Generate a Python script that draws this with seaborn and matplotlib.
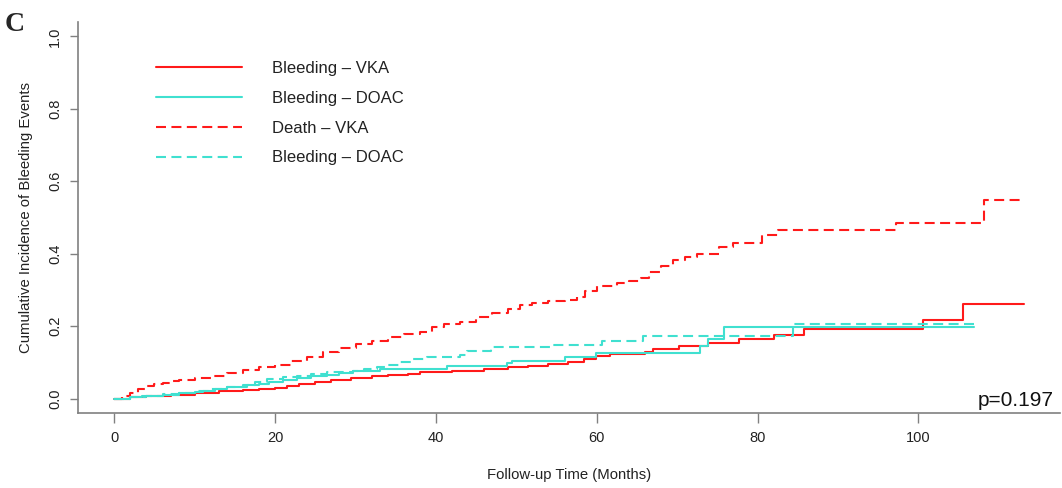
import matplotlib
matplotlib.use("Agg")
import matplotlib.pyplot as plt
import seaborn as sns
import pandas as pd

# ---- data ----
bleed_vka_t = [0, 2, 4, 7, 10, 13, 16, 18, 20, 21.5, 23, 25, 27, 29.5, 32, 34, 36.5, 38, 42, 46, 49,
               51.5, 54, 56.4, 58.4, 59.9, 61.7, 66, 67, 70.2, 73.9, 77.7, 82, 85.8, 100.6, 105.6, 113.1]
bleed_vka_v = [0, 0.004, 0.008, 0.011, 0.016, 0.020, 0.023, 0.027, 0.030, 0.035, 0.041, 0.046, 0.051,
               0.057, 0.061, 0.064, 0.068, 0.074, 0.077, 0.082, 0.087, 0.091, 0.096, 0.101, 0.109,
               0.117, 0.123, 0.129, 0.137, 0.145, 0.153, 0.164, 0.175, 0.192, 0.216, 0.260, 0.260]

bleed_doac_t = [0, 2, 3.5, 6, 8, 10, 11, 12.5, 14, 16.5, 18, 19.3, 21, 22.7, 24.5, 26.4, 28, 29.7, 33,
                41.4, 48.9, 49.5, 56.1, 59.9, 72.9, 73.8, 75.8, 106.9]
bleed_doac_v = [0, 0.004, 0.008, 0.011, 0.014, 0.018, 0.022, 0.027, 0.032, 0.036, 0.041, 0.046, 0.052,
                0.057, 0.062, 0.066, 0.070, 0.077, 0.082, 0.090, 0.099, 0.104, 0.115, 0.126, 0.145,
                0.164, 0.197, 0.197]

death_vka_t = [0, 1, 2, 3, 4, 5, 6, 7, 8, 10, 12, 14, 16, 18, 20, 22, 24, 26, 28, 30, 32, 34, 36, 38,
               39.5, 41, 43, 45, 47, 49, 50.5, 52, 54, 56, 57.5, 58.5, 60, 62.5, 64, 65.5, 66.5, 68,
               69.5, 71, 72.5, 75.2, 77, 80.5, 82.5, 97.2, 108.2, 113.1]
death_vka_v = [0, 0.008, 0.016, 0.027, 0.035, 0.040, 0.044, 0.047, 0.050, 0.056, 0.063, 0.070, 0.079,
               0.086, 0.093, 0.103, 0.114, 0.128, 0.140, 0.151, 0.160, 0.170, 0.177, 0.184, 0.198,
               0.206, 0.212, 0.225, 0.235, 0.248, 0.258, 0.264, 0.268, 0.272, 0.281, 0.296, 0.310,
               0.318, 0.325, 0.334, 0.350, 0.367, 0.383, 0.392, 0.400, 0.418, 0.430, 0.452, 0.466,
               0.486, 0.549, 0.549]

bleed_doac2_t = [0, 2, 4, 6, 8, 10, 11.8, 14, 16, 17.5, 19, 21, 22.7, 24.5, 26.4, 29.7, 31, 32.7, 33.9,
                 35.5, 37, 38.9, 43, 43.9, 46.8, 47.1, 54.6, 60.7, 65.7, 84.4, 106.9]
bleed_doac2_v = [0, 0.004, 0.008, 0.012, 0.016, 0.021, 0.027, 0.032, 0.036, 0.045, 0.055, 0.059, 0.063,
                 0.069, 0.073, 0.077, 0.082, 0.088, 0.093, 0.101, 0.108, 0.115, 0.120, 0.130, 0.137,
                 0.142, 0.148, 0.159, 0.173, 0.205, 0.205]

labels = ["Bleeding \u2013 VKA", "Bleeding \u2013 DOAC", "Death \u2013 VKA", "Bleeding \u2013 DOAC"]
x_ticks = [0, 20, 40, 60, 80, 100]
y_ticks = [0.0, 0.2, 0.4, 0.6, 0.8, 1.0]

RED = "#FF1A1A"
CYAN = "#40E0D0"
DASH = (0, (4.8, 2.6))

sns.set_style("white")
plt.rcParams["font.family"] = ["Liberation Sans", "DejaVu Sans"]

fig = plt.figure(figsize=(10.62, 4.88), dpi=100)
ax = fig.add_axes([0.0734, 0.1537, 0.9246, 0.8013])

series = [
    (bleed_vka_t, bleed_vka_v, RED, "-", labels[0]),
    (bleed_doac_t, bleed_doac_v, CYAN, "-", labels[1]),
    (death_vka_t, death_vka_v, RED, DASH, labels[2]),
    (bleed_doac2_t, bleed_doac2_v, CYAN, DASH, labels[3]),
]
for t, v, c, ls, lab in series:
    df = pd.DataFrame({"t": t, "v": v})
    sns.lineplot(data=df, x="t", y="v", ax=ax, color=c, linestyle=ls, linewidth=1.5,
                 drawstyle="steps-post", estimator=None, label=lab)

ax.set_xlim(-4.52, 117.6)
ax.set_ylim(-0.04, 1.04)
ax.set_xticks(x_ticks)
ax.set_xticklabels([str(x) for x in x_ticks], fontsize=10.5, color="#222222")
ax.set_yticks(y_ticks)
ax.set_yticklabels([f"{y:.1f}" for y in y_ticks], fontsize=10.5, color="#222222",
                   rotation=90, va="center")
ax.tick_params(axis="x", length=7.2, width=1, color="#808080", pad=6, bottom=True)
ax.tick_params(axis="y", length=6, width=1, color="#808080", pad=5.5, left=True)

for s in ["top", "right"]:
    ax.spines[s].set_visible(False)
for s in ["left", "bottom"]:
    ax.spines[s].set_color("#808080")
    ax.spines[s].set_linewidth(1.2)

ax.set_xlabel("Follow-up Time (Months)", fontsize=10.7, color="#222222", labelpad=16)
ax.set_ylabel("Cumulative Incidence of Bleeding Events", fontsize=10.7, color="#222222",
              labelpad=10.5)

leg = ax.legend(loc="upper left", bbox_to_anchor=(0.133, 0.906), bbox_transform=fig.transFigure,
                frameon=False, fontsize=12, handlelength=5.12, handletextpad=1.85,
                labelspacing=0.89)
for txt in leg.get_texts():
    txt.set_color("#222222")

ax.text(0.994, 0.008, "p=0.197", transform=ax.transAxes, ha="right", va="bottom",
        fontsize=15, color="#111111")

fig.text(0.004, 0.975, "C", fontsize=20, fontweight="bold", family="Liberation Serif",
         va="top", ha="left")

fig.savefig("out.png", dpi=100)
